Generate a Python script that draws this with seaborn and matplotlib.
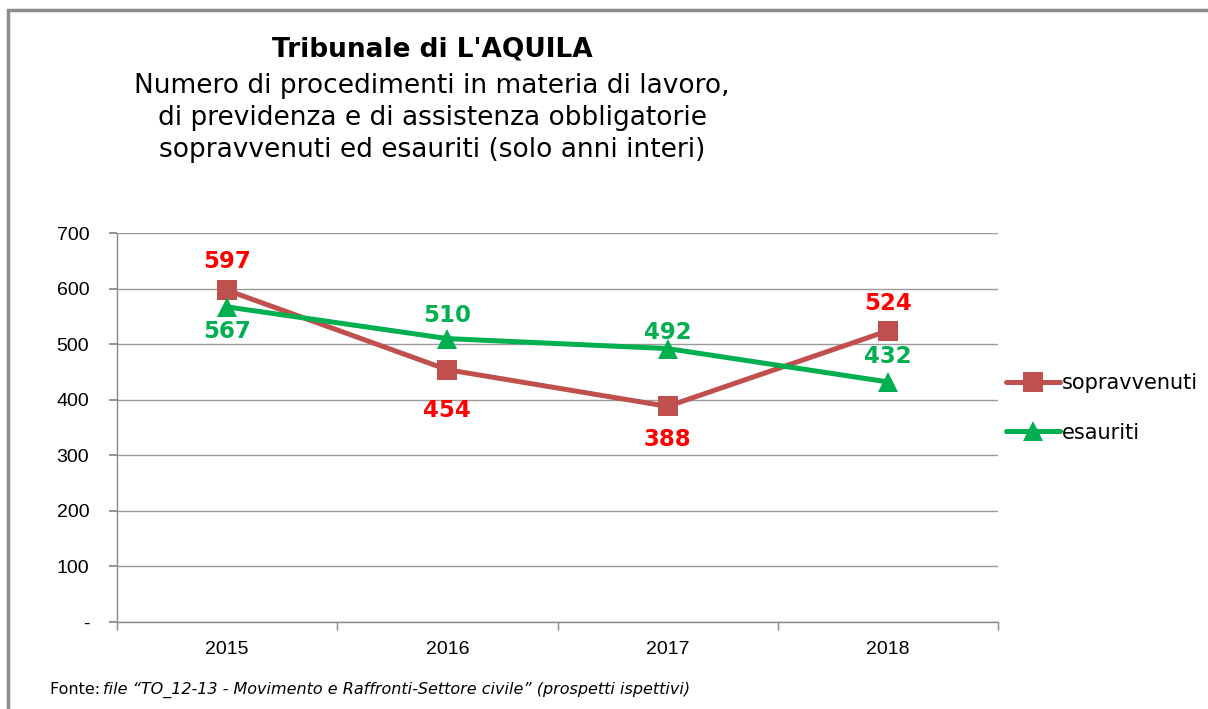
import matplotlib
matplotlib.use("Agg")
import matplotlib.pyplot as plt
import seaborn as sns
import pandas as pd
from matplotlib.patches import Rectangle
from matplotlib.lines import Line2D

years = ["2015", "2016", "2017", "2018"]
sopravvenuti = [597, 454, 388, 524]
esauriti = [567, 510, 492, 432]
yticks = [0, 100, 200, 300, 400, 500, 600, 700]
ytick_labels = ["-", "100", "200", "300", "400", "500", "600", "700"]

sns.set_theme(style="white")
plt.rcParams['font.family'] = ['DejaVu Sans']
plt.rcParams['text.color'] = 'black'
plt.rcParams['xtick.labelcolor'] = 'black'
plt.rcParams['ytick.labelcolor'] = 'black'

df = pd.DataFrame({
    "anno": years * 2,
    "valore": sopravvenuti + esauriti,
    "serie": ["sopravvenuti"] * 4 + ["esauriti"] * 4,
})

fig = plt.figure(figsize=(12.08, 7.09), dpi=100)
ax = fig.add_axes([117/1208, 1-622/709, 881/1208, 389/709])

red_line = "#C0504D"
green = "#00B050"

sns.lineplot(data=df[df.serie == "sopravvenuti"], x="anno", y="valore", ax=ax,
             color=red_line, linewidth=3.6, marker="s", markersize=14,
             markeredgewidth=0, legend=False, zorder=3)
sns.lineplot(data=df[df.serie == "esauriti"], x="anno", y="valore", ax=ax,
             color=green, linewidth=3.6, marker="^", markersize=14,
             markeredgewidth=0, legend=False, zorder=4)

ax.set_xlim(-0.5, 3.5)
ax.set_ylim(0, 700)
ax.set_yticks(yticks)
ax.set_yticklabels(ytick_labels, family="Liberation Sans", fontsize=14)
ax.set_xticks(range(4))
ax.set_xticklabels(years, family="Liberation Sans", fontsize=14)
ax.set_xticks([-0.5, 0.5, 1.5, 2.5, 3.5], minor=True)
ax.tick_params(axis="x", which="major", length=0, pad=14)
ax.tick_params(axis="x", which="minor", length=6, color="#888888", direction="out", bottom=True)
ax.tick_params(axis="y", length=6, color="#888888", direction="out", left=True, pad=14)
ax.set_xlabel("")
ax.set_ylabel("")
ax.grid(axis="y", color="#9a9a9a", linewidth=1)
ax.grid(axis="x", visible=False)
for s in ["top", "right"]:
    ax.spines[s].set_visible(False)
for s in ["left", "bottom"]:
    ax.spines[s].set_color("#888888")
    ax.spines[s].set_linewidth(1)

# data labels (offsets in points)
sop_off = [20.5, -29.5, -23.5, 19.5]
esa_off = [-18, 16.5, 11.5, 18.5]
for i, v in enumerate(sopravvenuti):
    ax.annotate(str(v), (i, v), xytext=(0, sop_off[i]), textcoords="offset points",
                ha="center", va="center", color="#FF0000", fontsize=16.5, fontweight="bold")
for i, v in enumerate(esauriti):
    ax.annotate(str(v), (i, v), xytext=(0, esa_off[i]), textcoords="offset points",
                ha="center", va="center", color=green, fontsize=16.5, fontweight="bold")

# title
fig.text(432/1208, 1-49/709, "Tribunale di L'AQUILA", ha="center", va="center",
         fontsize=19, fontweight="bold")
fig.text(432/1208, 1-118/709,
         "Numero di procedimenti in materia di lavoro,\ndi previdenza e di assistenza obbligatorie\nsopravvenuti ed esauriti (solo anni interi)",
         ha="center", va="center", fontsize=19, linespacing=1.28)

# legend
handles = [Line2D([], [], color=red_line, linewidth=3.6, marker="s", markersize=14, markeredgewidth=0),
           Line2D([], [], color=green, linewidth=3.6, marker="^", markersize=14, markeredgewidth=0)]
fig.legend(handles, ["sopravvenuti", "esauriti"], loc="center left",
           bbox_to_anchor=(987/1208, 1-408/709), frameon=False, fontsize=15,
           handlelength=2.6, handletextpad=0.1, labelspacing=1.4)

# source
fig.text(50/1208, 1-690/709, "Fonte: ", ha="left", va="center", fontsize=11.5)
fig.text(103/1208, 1-690/709, "file \u201cTO_12-13 - Movimento e Raffronti-Settore civile\u201d (prospetti ispettivi)",
         ha="left", va="center", fontsize=11.5, style="italic")

# border
fig.patches.append(Rectangle((8/1208, -0.1), 1.2, 1.1 - 10/709, transform=fig.transFigure,
                             fill=False, edgecolor="#8c8c8c", linewidth=2.5))

fig.savefig("out.png", dpi=100)
